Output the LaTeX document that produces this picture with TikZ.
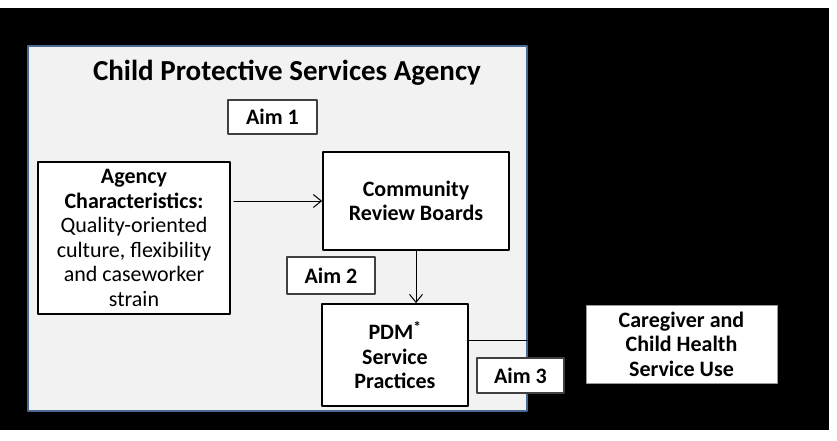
\documentclass[tikz,border=0pt]{standalone}
\usepackage{fontspec}
\setmainfont{Carlito}
\usetikzlibrary{arrows.meta}
\definecolor{panelfill}{HTML}{F2F2F2}
\definecolor{paneledge}{HTML}{4A6A94}
\begin{document}
\begin{tikzpicture}[line cap=round, line join=round, >={Straight Barb[length=8pt, width=13pt]}, x=1pt, y=-1pt, font=\fontsize{22}{24.5}\selectfont]
	\tikzset{panel/.style={draw=paneledge, line width=1.5pt, fill=panelfill, inner sep=0pt},
		box/.style={draw, line width=1.8pt, fill=white, align=center, inner sep=0pt},
		aimbox/.style={draw=black!75, line width=1.1pt, fill=white, inner sep=0pt, font=\bfseries\fontsize{22}{24.5}\selectfont},
		outbox/.style={draw=black!40, line width=0.6pt, fill=white, align=center, inner sep=0pt, font=\bfseries\fontsize{22}{24.5}\selectfont}}
	\useasboundingbox (0,0) rectangle (837,441);
	\fill[black] (0,8) rectangle (829,430);
	\node[panel, minimum width=499pt, minimum height=365pt] (panel) at (277.5,228.5) {};
	\node[font=\bfseries\fontsize{29}{32}\selectfont] (title) at (287,73) {Child Protective Services Agency};
	\node[aimbox, minimum width=89pt, minimum height=34pt] (aim1) at (272.5,117) {Aim 1};
	\node[box, minimum width=192pt, minimum height=152pt] (agency) at (134,238)
		{\textbf{Agency}\\\textbf{Characteristics:}\\Quality-oriented\\culture, flexibility\\and caseworker\\strain};
	\node[box, font=\bfseries\fontsize{22}{24.5}\selectfont, minimum width=186pt, minimum height=98pt] (community) at (416,201)
		{Community\\Review Boards};
	\node[aimbox, minimum width=88pt, minimum height=37pt] (aim2) at (331,275.5) {Aim 2};
	\node[box, font=\bfseries\fontsize{22}{24.5}\selectfont, minimum width=146pt, minimum height=102pt] (pdm) at (395,355)
		{PDM\textsuperscript{*}\\Service\\Practices};
	\coordinate (pdm exit) at (527,340);
	\node[outbox, minimum width=191pt, minimum height=78pt] (care) at (681.5,344)
		{Caregiver and\\Child Health\\Service Use};
	\draw[->, line width=1pt, shorten <=3pt] (community.west -| agency.east) -- (community.west);
	\draw[->, line width=1pt] (community.south) -- (community.south |- pdm.north);
	\draw[line width=1pt] (pdm exit -| pdm.east) -- (pdm exit);
	\node[aimbox, minimum width=87pt, minimum height=35pt] (aim3) at (520.5,375.5) {Aim 3};
\end{tikzpicture}
\end{document}
